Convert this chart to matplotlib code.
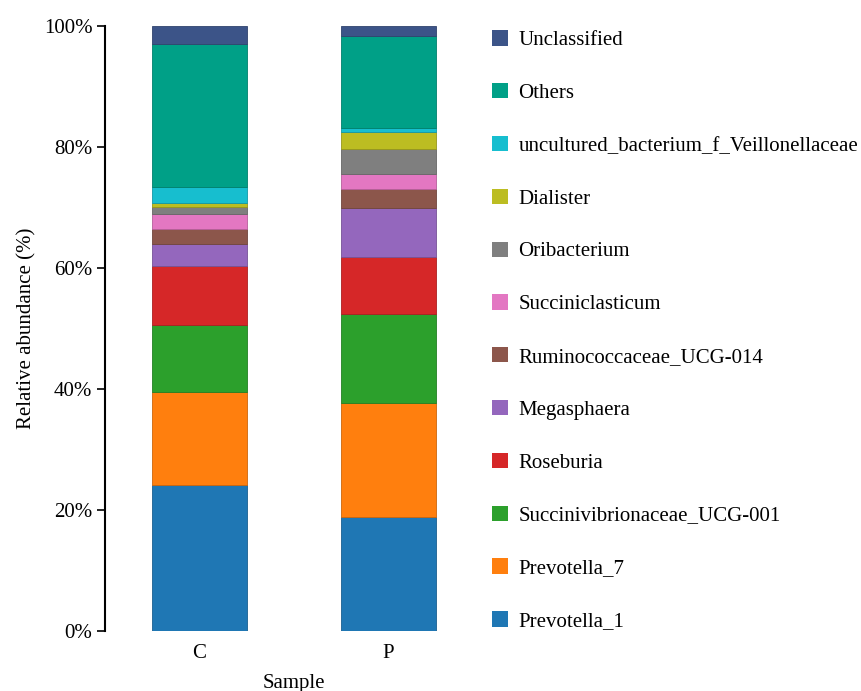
import matplotlib
matplotlib.use("Agg")
import matplotlib.pyplot as plt
from matplotlib.patches import Patch
from matplotlib.colors import to_rgb

plt.rcParams['font.family'] = ['Liberation Serif', 'DejaVu Serif']

samples = ["C", "P"]

# relative abundance (%) per genus, bottom to top of the stack
taxa = ["Prevotella_1", "Prevotella_7", "Succinivibrionaceae_UCG-001",
        "Roseburia", "Megasphaera", "Ruminococcaceae_UCG-014",
        "Succiniclasticum", "Oribacterium", "Dialister",
        "uncultured_bacterium_f_Veillonellaceae", "Others", "Unclassified"]
abund_C = [24.1, 15.4, 11.0, 9.8, 3.6, 2.6, 2.5, 1.1, 0.6, 2.7, 23.6, 3.0]
abund_P = [18.9, 18.8, 14.7, 9.5, 8.0, 3.1, 2.6, 4.1, 2.8, 0.6, 15.2, 1.7]

colors = ["#1f77b4", "#ff7f0e", "#2ca02c", "#d62728", "#9467bd", "#8c564b",
          "#e377c2", "#7f7f7f", "#bcbd22", "#17becf", "#00a087", "#3c5488"]

fig = plt.figure(figsize=(8.61, 6.91), dpi=100)
ax = fig.add_axes([105 / 861, 1 - 631 / 691, 378 / 861, 605 / 691])

x = range(len(samples))
bottom = [0.0, 0.0]
for name, c, vc, vp in zip(taxa, colors, abund_C, abund_P):
    edge = tuple(v * 0.8 for v in to_rgb(c))
    ax.bar(x, [vc, vp], width=0.5, bottom=bottom, color=c,
           edgecolor=edge, linewidth=0.6)
    bottom = [bottom[0] + vc, bottom[1] + vp]

ax.set_xlim(-0.5, 1.5)
ax.set_ylim(0, 100)
ax.set_yticks([0, 20, 40, 60, 80, 100])
ax.set_yticklabels(["%d%%" % t for t in [0, 20, 40, 60, 80, 100]])
ax.set_xticks(list(x))
ax.set_xticklabels(samples)

for s in ["top", "right", "bottom"]:
    ax.spines[s].set_visible(False)
ax.spines["left"].set_linewidth(1.5)
ax.tick_params(axis="y", length=6, width=1.2, labelsize=15, pad=3)
ax.tick_params(axis="x", length=0, labelsize=15, pad=9)
ax.set_ylabel("Relative abundance (%)", fontsize=15, labelpad=5)
ax.set_xlabel("Sample", fontsize=15, labelpad=8)

handles = [Patch(facecolor=c, edgecolor="none") for c in colors]
leg = fig.legend(handles[::-1], taxa[::-1], loc="upper left",
                 bbox_to_anchor=(484 / 861, 1 - 22 / 691), frameon=False,
                 fontsize=15, handlelength=0.75, handleheight=0.75,
                 handletextpad=0.5, labelspacing=1.58, borderaxespad=0)

fig.savefig("out.png", dpi=100)
